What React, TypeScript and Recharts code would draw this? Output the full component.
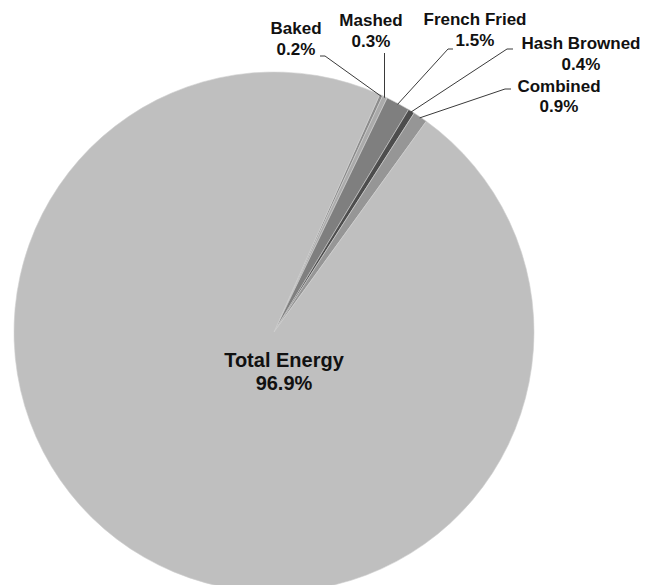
import { PieChart, Pie, Cell } from "recharts";

// potato preparation share of energy
const names = ["Baked", "Mashed", "French Fried", "Hash Browned", "Combined", "Total Energy"];
const shares = [0.2, 0.3, 1.5, 0.4, 0.9, 96.9];
const colors = ["#8c8c8c", "#ababab", "#7f7f7f", "#4d4d4d", "#969696", "#bfbfbf"];

const data = names.map((name, i) => ({ name, value: shares[i] }));

// where each label sits (text centre + baselines) and the bend of its leader line
const labelSpots: Record<string, { x: number; y1: number; y2: number; bend?: [number, number][] }> = {
  Baked: { x: 296, y1: 34, y2: 55, bend: [[325, 56], [320, 56]] },
  Mashed: { x: 371, y1: 26, y2: 47, bend: [[385, 53]] },
  "French Fried": { x: 475, y1: 25, y2: 46, bend: [[448, 49], [453, 49]] },
  "Hash Browned": { x: 581, y1: 49, y2: 70, bend: [[507, 49], [513, 49]] },
  Combined: { x: 559, y1: 92, y2: 112, bend: [[505, 89], [511, 89]] },
  "Total Energy": { x: 284, y1: 367, y2: 390 },
};

const RAD = Math.PI / 180;

const renderLabel = (props: any) => {
  const { cx, cy, midAngle, outerRadius, name, value } = props;
  const spot = labelSpots[name];
  if (!spot) return null;
  const big = name === "Total Energy";
  const fs = big ? 20 : 17;
  let line = null;
  if (spot.bend) {
    const ex = cx + (outerRadius - 1) * Math.cos(-midAngle * RAD);
    const ey = cy + (outerRadius - 1) * Math.sin(-midAngle * RAD);
    // Mashed goes straight up
    const pts = [[ex, ey], ...spot.bend.map(([bx, by]) => [name === "Mashed" ? ex : bx, by])];
    line = (
      <polyline
        points={pts.map((p) => p.join(",")).join(" ")}
        fill="none"
        stroke="#3a3a3a"
        strokeWidth={1}
      />
    );
  }
  return (
    <g key={name}>
      {line}
      <text
        x={spot.x}
        y={spot.y1}
        textAnchor="middle"
        fontFamily="Liberation Sans, Arial, sans-serif"
        fontWeight="bold"
        fontSize={fs}
        fill="#111"
      >
        {name}
      </text>
      <text
        x={spot.x}
        y={spot.y2}
        textAnchor="middle"
        fontFamily="Liberation Sans, Arial, sans-serif"
        fontWeight="bold"
        fontSize={fs}
        fill="#111"
      >
        {value.toFixed(1)}%
      </text>
    </g>
  );
};

export default function App() {
  return (
    <div style={{ position: "absolute", left: 0, top: 0, background: "#fff" }}>
      <PieChart width={650} height={585} margin={{ top: 0, right: 0, bottom: 0, left: 0 }}>
        <Pie
          data={data}
          dataKey="value"
          nameKey="name"
          cx={274}
          cy={332}
          outerRadius={260}
          startAngle={66}
          endAngle={-294}
          stroke="#d0d0d0"
          strokeWidth={0.6}
          label={renderLabel}
          labelLine={false}
          isAnimationActive={false}
        >
          {data.map((d, i) => (
            <Cell key={d.name} fill={colors[i]} />
          ))}
        </Pie>
      </PieChart>
    </div>
  );
}
